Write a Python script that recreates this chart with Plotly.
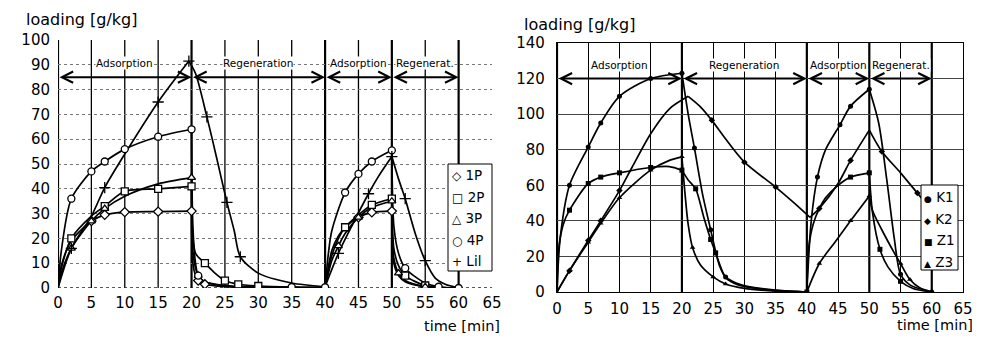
import plotly.graph_objects as go

# ---------------- data ----------------
TIME_TICKS = list(range(0, 70, 5))
LEFT_Y_TICKS = list(range(0, 110, 10))
RIGHT_Y_TICKS = list(range(0, 160, 20))

PHASE_NAMES = ["Adsorption", "Regeneration", "Adsorption", "Regenerat."]
PHASE_START = [0, 20, 40, 50]
PHASE_END = [20, 40, 50, 60]

# left chart: curves (a repeated time value starts a new phase segment)
T_1P = [0, 0.5, 2, 5, 7, 10, 15, 20, 20, 20.2, 20.6, 21, 22, 25, 30, 40, 40, 41, 42, 43, 45, 47, 50, 50, 50.3, 51, 52, 55, 60]
V_1P = [0, 9, 19, 27, 29.5, 30.6, 30.8, 31, 31, 10, 5, 3, 1.5, 0.5, 0.2, 0, 0, 15, 21, 24.5, 28.5, 30.5, 31, 31, 10, 5, 2.5, 0.5, 0]
T_2P = [0, 0.5, 2, 5, 7, 10, 15, 20, 20, 20.2, 20.6, 21, 22, 23.5, 25, 27, 30, 35, 40, 40, 41, 42, 43, 45, 47, 50, 50, 50.3, 51, 52, 55, 60]
V_2P = [0, 8, 20, 29, 33, 39, 40, 41, 41, 20, 14, 12.5, 10, 6, 3, 1.5, 0.8, 0.4, 0.3, 0.3, 13, 20, 24.5, 29.5, 33.5, 36, 36, 16, 9, 5, 1, 0]
T_3P = [0, 0.5, 2, 5, 7, 10, 15, 20, 20, 20.2, 20.6, 21, 22, 25, 30, 40, 40, 41, 42, 43, 45, 47, 50, 50, 50.3, 51, 52, 55, 60]
V_3P = [0, 6, 16, 27, 32, 37, 42, 44.5, 44.5, 15, 8, 5, 2.5, 0.8, 0.3, 0, 0, 11, 17, 22, 28.5, 32.5, 35, 35, 12, 6, 3, 0.5, 0]
T_4P = [0, 0.5, 2, 5, 7, 10, 15, 20, 20, 20.2, 20.6, 21, 22, 25, 30, 40, 40, 40.5, 41, 43, 45, 47, 50, 50, 50.3, 51, 52, 55, 57, 60]
V_4P = [0, 15, 36, 47, 51, 56, 61, 64, 64, 25, 10, 5, 2.5, 1, 0.5, 0.3, 0.3, 14, 23, 38.5, 46, 51, 55.5, 55.5, 25, 14, 8, 2, 0.5, 0]
T_LIL = [0, 2, 5, 7, 10, 15, 19.6, 19.6, 20.6, 22.3, 23.8, 25.3, 26.4, 27.3, 30, 35, 40, 40, 42, 44, 46.5, 48, 50, 50, 51, 52, 53.5, 55, 56.5, 58, 60]
V_LIL = [0, 16, 29, 40.5, 54, 75, 91.5, 91.5, 86.5, 69, 52, 34.5, 23, 12.6, 6, 2, 0.5, 0.5, 14, 25, 38, 45, 53, 53, 44, 36, 22, 11, 4, 1.5, 0]

# left chart: measured points (markers)
MT_1P = [5, 7, 10, 15, 20, 21, 22, 45, 47, 50, 55]
MV_1P = [27, 29.5, 30.6, 30.8, 31, 3, 1.5, 28.5, 30.5, 31, 0.5]
MT_2P = [2, 7, 10, 15, 20, 22, 25, 27, 30, 43, 47, 50, 52, 55]
MV_2P = [20, 33, 39, 40, 41, 10, 3, 1.5, 0.8, 24.5, 33.5, 36, 5, 1]
MT_3P = [2, 5, 7, 20, 21, 42, 45, 50, 51, 55]
MV_3P = [16, 27, 32, 44.5, 5, 17, 28.5, 35, 6, 0.5]
MT_4P = [2, 5, 7, 10, 15, 20, 21, 35, 40, 43, 45, 47, 50, 52, 57, 60]
MV_4P = [36, 47, 51, 56, 61, 64, 5, 0.4, 0.3, 38.5, 46, 51, 55.5, 8, 0.5, 0]
MT_LIL = [2, 7, 15, 19.6, 22.3, 25.3, 27.3, 42, 46.5, 50, 52, 55]
MV_LIL = [16, 40.5, 75, 91.5, 69, 34.5, 12.6, 14, 38, 53, 36, 11]

# right chart: curves
T_K1 = [0, 0.5, 2, 5, 7, 10, 15, 20, 20, 21, 22, 23.3, 24.6, 26, 27, 29.5, 35, 40, 40, 40.7, 41.7, 43, 45.3, 47, 50, 50, 51.5, 52.8, 54, 55, 56.5, 60]
V_K1 = [0, 30, 60, 81.5, 95, 110, 120, 123, 123, 100, 81, 55, 35, 15, 8.5, 4, 1, 0, 0, 40, 64.6, 80, 94, 104.5, 114, 114, 95, 63, 30, 10, 4, 0]
T_K2 = [0, 2, 5, 7, 10, 12, 15, 18, 21, 21, 23, 24.8, 27, 30, 35, 38, 40.5, 40.5, 42, 45, 47, 50, 50, 52, 55, 57.7, 59]
V_K2 = [0, 12, 29, 40, 57, 70, 89, 103, 110, 110, 104, 96.5, 86, 73, 59, 50, 42, 42, 47, 61, 74, 91, 91, 79, 67, 55.6, 50]
T_Z1 = [0, 0.3, 1, 2, 5, 7, 10, 15, 18, 20, 20, 21, 22.2, 23.5, 24.6, 25.4, 26, 27, 29, 33, 40, 40, 40.3, 41, 42, 43, 45, 47, 50, 50, 50.5, 51.7, 53, 55, 57, 60]
V_Z1 = [0, 25, 38, 46, 61, 64.6, 67, 70, 70.5, 68.5, 68.5, 63, 58, 42, 29.5, 22, 16, 8, 4, 1.5, 0, 0, 25, 38, 47, 53, 60, 64.6, 67, 67, 45, 24, 14, 6, 2, 0]
T_Z3 = [0, 2, 5, 7, 10, 15, 18, 20, 20, 20.5, 21, 21.7, 23, 25, 27, 30, 35, 40, 40, 42, 44.5, 47, 50, 50, 50.5, 52, 54, 55, 56.5, 58, 60]
V_Z3 = [0, 12, 28, 38.6, 53, 68.5, 74, 76, 76, 55, 38, 25, 15, 8.5, 4.5, 2, 0.5, 0, 0, 16, 28, 40, 54, 54, 46, 35, 22, 16, 7, 2.5, 0]

# right chart: measured points
MT_K1 = [2, 5, 7, 10, 15, 20, 22, 24.6, 27, 41.7, 45.3, 47, 50, 55, 60]
MV_K1 = [60, 81.5, 95, 110, 120, 123, 81, 35, 8.5, 64.6, 94, 104.5, 114, 10, 0]
MT_K2 = [2, 5, 7, 10, 24.8, 30, 35, 42, 47, 52, 57.7]
MV_K2 = [12, 29, 40, 57, 96.5, 73, 59, 47, 74, 79, 55.6]
MT_Z1 = [2, 5, 7, 10, 15, 20, 22.2, 24.6, 25.4, 40, 47, 50, 51.7, 55]
MV_Z1 = [46, 61, 64.6, 67, 70, 68.5, 58, 29.5, 22, 0, 64.6, 67, 24, 6]
MT_Z3 = [2, 5, 7, 10, 15, 20, 21.7, 25, 27, 42, 47, 50, 55, 56.5]
MV_Z3 = [12, 28, 38.6, 53, 68.5, 76, 25, 8.5, 4.5, 16, 40, 54, 16, 7]

LEFT_SERIES = [
    ("1P", T_1P, V_1P, MT_1P, MV_1P, "diamond", "◇"),
    ("2P", T_2P, V_2P, MT_2P, MV_2P, "square", "□"),
    ("3P", T_3P, V_3P, MT_3P, MV_3P, "triangle-up", "△"),
    ("4P", T_4P, V_4P, MT_4P, MV_4P, "circle", "○"),
    ("Lil", T_LIL, V_LIL, MT_LIL, MV_LIL, "cross-thin", "+"),
]
RIGHT_SERIES = [
    ("K1", T_K1, V_K1, MT_K1, MV_K1, "circle", "●"),
    ("K2", T_K2, V_K2, MT_K2, MV_K2, "diamond", "◆"),
    ("Z1", T_Z1, V_Z1, MT_Z1, MV_Z1, "square", "■"),
    ("Z3", T_Z3, V_Z3, MT_Z3, MV_Z3, "triangle-up", "▲"),
]

# ---------------- figure ----------------
W, H = 986, 338
FONT = "DejaVu Sans"


def px(x):
    return x / W


def py(y):
    return 1 - y / H


def segments(T, V):
    xs, ys = [], []
    for i, (t, v) in enumerate(zip(T, V)):
        if i > 0 and t == T[i - 1]:
            xs.append(None)
            ys.append(None)
        xs.append(t)
        ys.append(v)
    return xs, ys


fig = go.Figure()

for name, T, V, MT, MV, sym, _ in LEFT_SERIES:
    xs, ys = segments(T, V)
    fig.add_trace(go.Scatter(x=xs, y=ys, mode="lines", xaxis="x", yaxis="y",
                             line=dict(color="black", width=1.7, shape="spline", smoothing=0.8),
                             connectgaps=False, showlegend=False, hoverinfo="skip"))
for name, T, V, MT, MV, sym, _ in LEFT_SERIES:
    open_sym = sym != "cross-thin"
    fig.add_trace(go.Scatter(x=MT, y=MV, mode="markers", name=name, xaxis="x", yaxis="y",
                             marker=dict(symbol=sym, size=7 if open_sym else 8,
                                         color="white" if open_sym else "black",
                                         line=dict(color="black", width=1.3)),
                             showlegend=False))

for name, T, V, MT, MV, sym, _ in RIGHT_SERIES:
    xs, ys = segments(T, V)
    fig.add_trace(go.Scatter(x=xs, y=ys, mode="lines", xaxis="x2", yaxis="y2",
                             line=dict(color="black", width=1.7, shape="spline", smoothing=0.8),
                             connectgaps=False, showlegend=False, hoverinfo="skip"))
for name, T, V, MT, MV, sym, _ in RIGHT_SERIES:
    fig.add_trace(go.Scatter(x=MT, y=MV, mode="markers", name=name, xaxis="x2", yaxis="y2",
                             marker=dict(symbol=sym, size=5, color="black"),
                             showlegend=False))

L_DOM_X = [px(58), px(492)]
L_DOM_Y = [py(288), py(40)]
R_DOM_X = [px(557), px(963)]
R_DOM_Y = [py(292), py(43)]

tickfont = dict(family=FONT, size=15, color="black")

fig.update_layout(
    width=W, height=H, autosize=False,
    margin=dict(l=0, r=0, t=0, b=0, pad=0),
    paper_bgcolor="white", plot_bgcolor="white",
    font=dict(family=FONT, color="black"),
    showlegend=False,
    xaxis=dict(domain=L_DOM_X, range=[0, 65], tickvals=TIME_TICKS, showgrid=False,
               zeroline=False, showline=False, ticks="", tickfont=tickfont,
               ticklabelstandoff=4, anchor="y", fixedrange=True, automargin=False),
    yaxis=dict(domain=L_DOM_Y, range=[0, 100], tickvals=LEFT_Y_TICKS, showgrid=True,
               gridcolor="#777", gridwidth=1, griddash="dot", zeroline=False,
               showline=False, ticks="", tickfont=tickfont, ticklabelstandoff=7,
               anchor="x", fixedrange=True, automargin=False),
    xaxis2=dict(domain=R_DOM_X, range=[0, 65], tickvals=TIME_TICKS, showgrid=True,
                gridcolor="black", gridwidth=1.2, zeroline=False, showline=True,
                mirror=True, linecolor="black", linewidth=1.2, ticks="",
                tickfont=tickfont, ticklabelstandoff=3, anchor="y2", fixedrange=True,
                automargin=False),
    yaxis2=dict(domain=R_DOM_Y, range=[0, 140], tickvals=RIGHT_Y_TICKS, showgrid=True,
                gridcolor="#444", gridwidth=1, zeroline=False, showline=True, mirror=True,
                linecolor="black", linewidth=1.2, ticks="", tickfont=tickfont,
                ticklabelstandoff=8, anchor="x2", fixedrange=True, automargin=False),
)

shapes = []
# left chart vertical grid lines
for t in TIME_TICKS:
    if t > 60:
        continue
    heavy = t in PHASE_START or t in PHASE_END
    shapes.append(dict(type="line", xref="x", yref="y", x0=t, x1=t, y0=0, y1=100,
                       line=dict(color="black", width=2.2 if heavy else 1.3), layer="below"))
shapes.append(dict(type="line", xref="x", yref="y", x0=0, x1=65, y0=0, y1=0,
                   line=dict(color="#222", width=1.6, dash="dot"), layer="below"))
# right chart heavy phase lines
for t in sorted(set(PHASE_START + PHASE_END)):
    shapes.append(dict(type="line", xref="x2", yref="y2", x0=t, x1=t, y0=0, y1=140,
                       line=dict(color="black", width=2.2), layer="below"))

# legend boxes
shapes.append(dict(type="rect", xref="paper", yref="paper", x0=px(448), x1=px(492),
                   y0=py(271), y1=py(164), line=dict(color="black", width=1),
                   fillcolor="white", layer="above"))
shapes.append(dict(type="rect", xref="paper", yref="paper", x0=px(921), x1=px(958),
                   y0=py(270), y1=py(185), line=dict(color="black", width=1),
                   fillcolor="white", layer="above"))

annotations = []
# phase arrows and labels
for xr, yr, ya, yl in [("x", "y", 85, 90.7), ("x2", "y2", 120, 127.5)]:
    for name, a, b in zip(PHASE_NAMES, PHASE_START, PHASE_END):
        annotations.append(dict(xref=xr, yref=yr, axref=xr, ayref=yr, x=b, y=ya, ax=a, ay=ya,
                                text="", showarrow=True, arrowhead=5, startarrowhead=5,
                                arrowside="end+start", arrowsize=1.1, arrowwidth=2,
                                arrowcolor="black"))
        annotations.append(dict(xref=xr, yref=yr, x=(a + b) / 2, y=yl, text=name,
                                showarrow=False, font=dict(family=FONT, size=10.5, color="black"),
                                bgcolor="white", borderpad=0))

# axis titles
annotations.append(dict(xref="paper", yref="paper", x=px(24), y=py(20), xanchor="left",
                        yanchor="middle", text="loading [g/kg]", showarrow=False,
                        font=dict(family=FONT, size=16)))
annotations.append(dict(xref="paper", yref="paper", x=px(522), y=py(24), xanchor="left",
                        yanchor="middle", text="loading [g/kg]", showarrow=False,
                        font=dict(family=FONT, size=16)))
annotations.append(dict(xref="paper", yref="paper", x=px(502), y=py(326), xanchor="right",
                        yanchor="middle", text="time [min]", showarrow=False,
                        font=dict(family=FONT, size=14.5)))
annotations.append(dict(xref="paper", yref="paper", x=px(975), y=py(325), xanchor="right",
                        yanchor="middle", text="time [min]", showarrow=False,
                        font=dict(family=FONT, size=14.5)))

# legend entries
for i, s in enumerate(LEFT_SERIES):
    annotations.append(dict(xref="paper", yref="paper", x=px(450), y=py(175 + 21.5 * i),
                            xanchor="left", yanchor="middle",
                            text=f"<span style='font-size:12px'>{s[6]}</span> {s[0]}",
                            showarrow=False, font=dict(family=FONT, size=13.5)))
for i, s in enumerate(RIGHT_SERIES):
    annotations.append(dict(xref="paper", yref="paper", x=px(922), y=py(197 + 21.5 * i),
                            xanchor="left", yanchor="middle",
                            text=f"<span style='font-size:9px'>{s[6]}</span> {s[0]}",
                            showarrow=False, font=dict(family=FONT, size=13.5)))

fig.update_layout(shapes=shapes, annotations=annotations)
fig.write_html("out.html",
               config={"displayModeBar": False},
               post_script="document.body.style.margin='0';document.body.style.overflow='hidden';")
